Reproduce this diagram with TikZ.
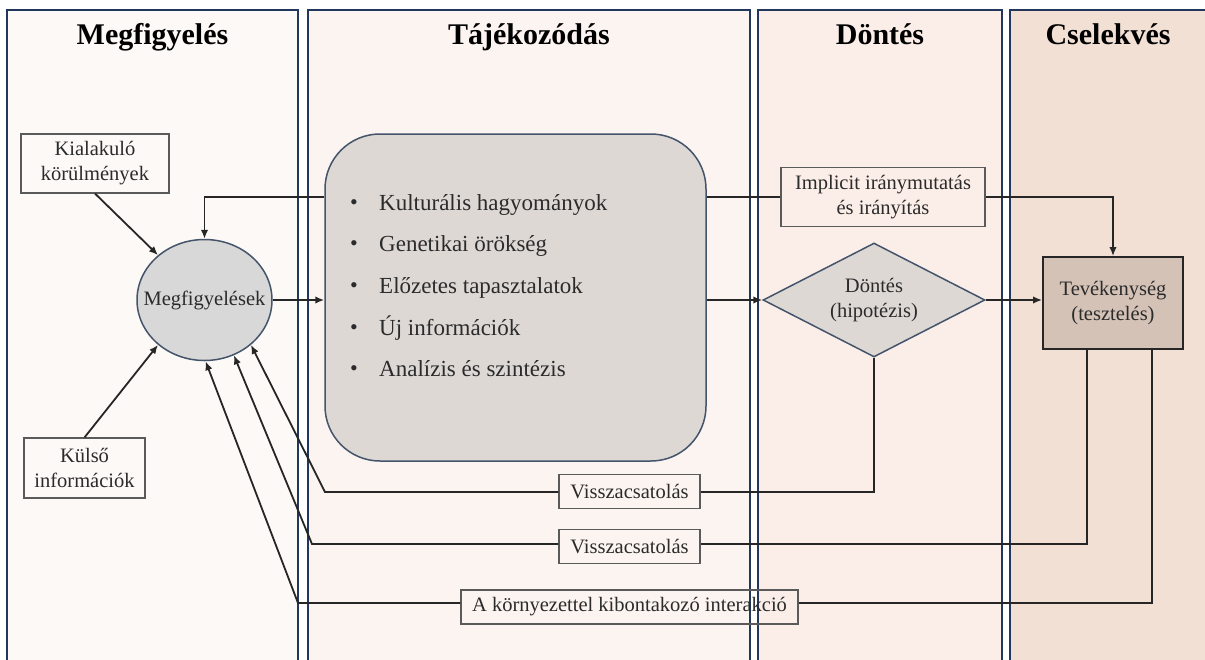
\documentclass[tikz,border=0pt]{standalone}
\usepackage{fontspec}
\setmainfont{Liberation Serif}
\usetikzlibrary{arrows.meta,shapes.geometric}

\definecolor{colA}{HTML}{FDF9F7}
\definecolor{colB}{HTML}{FCF4F0}
\definecolor{colC}{HTML}{FBEEE8}
\definecolor{colD}{HTML}{F2E0D4}
\definecolor{navy}{HTML}{22375C}
\definecolor{shapeline}{HTML}{44546A}
\definecolor{greyfill}{HTML}{DED8D5}
\definecolor{circfill}{HTML}{D9D8D8}
\definecolor{tanfill}{HTML}{D4C2B6}
\definecolor{boxline}{HTML}{5A5A5A}
\definecolor{ink}{HTML}{262626}
\definecolor{txt}{HTML}{2B2B2B}

\begin{document}
\begin{tikzpicture}[x=1pt,y=-1pt,
  column/.style={draw=navy,line width=1.8pt},
  head/.style={anchor=base,font=\fontsize{30}{36}\selectfont\bfseries,text=black},
  lbl/.style={draw=boxline,line width=1.1pt,align=center,inner sep=0pt,
    text=txt,font=\fontsize{20.5}{25}\selectfont},
  bul/.style={text=txt,font=\fontsize{23}{28}\selectfont,inner sep=0pt},
  conn/.style={draw=ink,line width=1.8pt},
  arr/.style={conn,-{Latex[length=9pt,width=7.5pt]}}]

\useasboundingbox (0,0) rectangle (1205,659);
\fill[white] (0,0) rectangle (1205,659);

% four phase columns
\path[column,fill=colA] (7,10) rectangle (298,680);
\path[column,fill=colB] (308,10) rectangle (750,680);
\path[column,fill=colC] (758,10) rectangle (1002,680);
\path[column,fill=colD] (1010,10) rectangle (1230,680);

% column headings
\node[head] (h1) at (152.5,44.5) {Megfigyelés};
\node[head] (h2) at (529,44.5) {Tájékozódás};
\node[head] (h3) at (880,44.5) {Döntés};
\node[head] (h4) at (1108,44.5) {Cselekvés};

% observation inputs
\node[lbl,minimum width=148pt,minimum height=59pt] (kial) at (95,163.5) {Kialakuló\\körülmények};
\node[lbl,minimum width=121pt,minimum height=60pt] (kulso) at (84.5,468) {Külső\\információk};
\node[ellipse,draw=shapeline,fill=circfill,line width=1.5pt,minimum width=135pt,
  minimum height=121pt,inner sep=0pt,text=txt,font=\fontsize{20.5}{25}\selectfont]
  (circ) at (204.5,300) {\makebox[0pt]{Megfigyelések}};

% orientation block
\node[draw=shapeline,fill=greyfill,line width=1.5pt,rounded corners=55pt,
  minimum width=381pt,minimum height=327pt,inner sep=0pt] (core) at (515.5,297.5) {};
\foreach \t [count=\i] in {Kulturális hagyományok,Genetikai örökség,Előzetes tapasztalatok,Új információk,Analízis és szintézis}{
  \node[bul,anchor=base west] (b\i) at (379,{210+41.7*(\i-1)}) {\t};
  \node[bul,anchor=base,font=\fontsize{22}{26}\selectfont] (d\i) at (354,{209+41.7*(\i-1)}) {\textbullet};
}

% decision and action
\node[lbl,minimum width=204pt,minimum height=59pt] (impl) at (883,197) {Implicit iránymutatás\\és irányítás};
\node[diamond,draw=shapeline,fill=greyfill,line width=1.5pt,minimum width=222pt,
  minimum height=114pt,aspect=1.95,inner sep=0pt,align=center,text=txt,
  font=\fontsize{20.5}{25}\selectfont] (dia) at (874,300) {Döntés\\(hipotézis)};
\node[draw=ink,fill=tanfill,line width=1.8pt,minimum width=140pt,minimum height=92pt,
  inner sep=0pt,align=center,text=txt,font=\fontsize{20.5}{25}\selectfont]
  (tev) at (1113,303) {Tevékenység\\(tesztelés)};

% feedback labels
\node[lbl,minimum width=141pt,minimum height=34pt] (fb1) at (629.5,491.5) {Visszacsatolás};
\node[lbl,minimum width=141pt,minimum height=34pt] (fb2) at (629.5,546.5) {Visszacsatolás};
\node[lbl,minimum width=337pt,minimum height=34pt] (inter) at (629.5,607) {A környezettel kibontakozó interakció};

% routing coordinates
\coordinate (yt) at (0,197);
\coordinate (f1) at (0,492);
\coordinate (f2) at (0,544);
\coordinate (f3) at (0,603);
\coordinate (x2) at (1087,0);
\coordinate (x3) at (1152,0);
\coordinate (c1) at (325,492);
\coordinate (c2) at (312,544);
\coordinate (c3) at (298,603);

% forward flow
\draw[arr] (kial.south) -- (circ.136.5);
\draw[arr] (kulso.north) -- (circ.-136.5);
\draw[arr] (core.west |- yt) -| (circ.north);
\draw[arr] (circ.east) -- (core.west |- circ.east);
\draw[conn] (core.east |- yt) -- (impl.west |- yt);
\draw[arr] (impl.east |- yt) -| (tev.north);
\draw[arr] (core.east |- dia.west) -- (dia.west);
\draw[arr] (dia.east) -- (dia.east -| tev.west);

% feedback loops
\draw[conn] (dia.south) |- (fb1.east |- f1);
\draw[arr] (fb1.west |- f1) -- (c1) -- (circ.-44);
\draw[conn] (tev.south -| x2) |- (fb2.east |- f2);
\draw[arr] (fb2.west |- f2) -- (c2) -- (circ.-62);
\draw[conn] (tev.south -| x3) |- (inter.east |- f3);
\draw[arr] (inter.west |- f3) -- (c3) -- (circ.-89);
\end{tikzpicture}
\end{document}
